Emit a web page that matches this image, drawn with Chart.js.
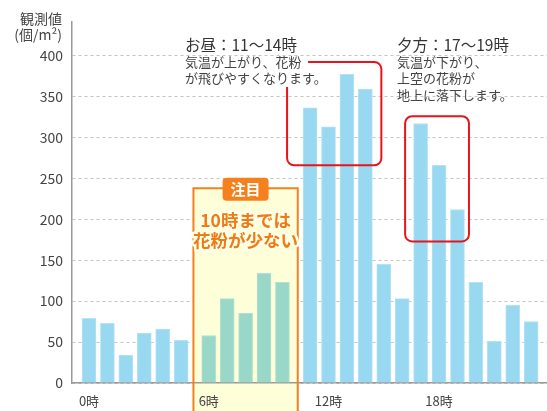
<!DOCTYPE html>
<html><head><meta charset="utf-8">
<script src="https://cdn.jsdelivr.net/npm/chart.js@4"></script>
<style>html,body{margin:0;padding:0;background:#fff}canvas{display:block}</style>
</head><body>
<canvas id="c" width="547" height="411"></canvas>
<script>
const hours = [0,1,2,3,4,5,6,7,8,9,10,11,12,13,14,15,16,17,18,19,20,21,22,23];
const pollen = [79,73,34,61,66,52,58,103,85,134,123,336,313,377,359,145,103,317,266,212,123,51,95,75];
const focusHours = [6,7,8,9,10];
const xTickHours = [0,6,12,18];
const xTickLabels = ['0時','6時','12時','18時'];
const yTicks = [0,50,100,150,200,250,300,350,400];
const yTitle = ['観測値','(個/m²)'];
const noonHours = [11,14];
const noonTitle = 'お昼：11～14時';
const noonLines = ['気温が上がり、花粉','が飛びやすくなります。'];
const eveHours = [17,19];
const eveTitle = '夕方：17～19時';
const eveLines = ['気温が下がり、','上空の花粉が','地上に落下します。'];
const focusTag = '注目';
const focusLines = ['10時までは','花粉が少ない'];

const FONT = "'Noto Sans CJK JP','Noto Sans',sans-serif";
const BLUE = '#98D8F1', BLUE_B = '#B4E3F5';
const TEAL = '#99D8C8', TEAL_B = '#B2E2D3';
const ORANGE = '#F5801E', RED = '#E8141C', YELLOW = '#FEFED8';

// extra half-slot gap on both sides of the highlighted block
const gapAfter = [focusHours[0]-1, focusHours[focusHours.length-1]];
const pos = h => h + 0.5 * gapAfter.filter(g => h > g).length;
const isFocus = h => focusHours.includes(h);

function roundPath(ctx, l, t, r, b, rad) {
  ctx.beginPath();
  ctx.moveTo(l+rad, t); ctx.lineTo(r-rad, t); ctx.arcTo(r, t, r, t+rad, rad);
  ctx.lineTo(r, b-rad); ctx.arcTo(r, b, r-rad, b, rad);
  ctx.lineTo(l+rad, b); ctx.arcTo(l, b, l, b-rad, rad);
  ctx.lineTo(l, t+rad); ctx.arcTo(l, t, l+rad, t, rad);
  ctx.closePath();
}

function focusBox(chart) {
  const x = chart.scales.x, y = chart.scales.y;
  const f0 = focusHours[0], f1 = focusHours[focusHours.length-1];
  const l = (x.getPixelForValue(pos(f0-1)) + x.getPixelForValue(pos(f0)))/2 - 1.5;
  const r = (x.getPixelForValue(pos(f1)) + x.getPixelForValue(pos(f1+1)))/2 + 1.5;
  const t = y.getPixelForValue(238);
  return {l, r, t, b: chart.height + 5};
}

const deco = {
  id: 'deco',
  beforeDatasetsDraw(chart) {
    const ctx = chart.ctx, bx = focusBox(chart);
    ctx.save();
    ctx.fillStyle = YELLOW;
    ctx.fillRect(bx.l, bx.t, bx.r - bx.l, bx.b - bx.t);
    ctx.beginPath(); ctx.rect(bx.l, bx.t, bx.r - bx.l, bx.b - bx.t); ctx.clip();
    chart.scales.x.draw(chart.chartArea);
    ctx.restore();
  },
  afterDatasetsDraw(chart) {
    const ctx = chart.ctx, x = chart.scales.x, y = chart.scales.y, bx = focusBox(chart);
    ctx.save();
    ctx.strokeStyle = ORANGE; ctx.lineWidth = 2;
    ctx.beginPath();
    ctx.moveTo(bx.l, bx.b); ctx.lineTo(bx.l, bx.t); ctx.lineTo(bx.r, bx.t); ctx.lineTo(bx.r, bx.b);
    ctx.stroke();
    const cx = (bx.l + bx.r)/2;
    ctx.fillStyle = ORANGE;
    roundPath(ctx, cx-23, bx.t-10.5, cx+23, bx.t+12.5, 4); ctx.fill();
    ctx.fillStyle = '#fff'; ctx.font = 'bold 15px ' + FONT;
    ctx.textAlign = 'center'; ctx.textBaseline = 'middle';
    ctx.fillText(focusTag, cx, bx.t + 1);
    ctx.font = 'bold 17.5px ' + FONT;
    ctx.lineJoin = 'round';
    focusLines.forEach((s, i) => {
      const ty = bx.t + 32 + i*20.5;
      ctx.strokeStyle = '#FFFFE6'; ctx.lineWidth = 5; ctx.strokeText(s, cx, ty);
      ctx.fillStyle = '#F07A18'; ctx.fillText(s, cx, ty);
    });
    ctx.strokeStyle = RED; ctx.lineWidth = 2;
    {
      const l = x.getPixelForValue(pos(noonHours[0])) - 23, r = x.getPixelForValue(pos(noonHours[1])) + 16;
      const t = y.getPixelForValue(392), b = y.getPixelForValue(266), rad = 7;
      ctx.beginPath();
      ctx.moveTo(l+21, t); ctx.lineTo(r-rad, t); ctx.arcTo(r, t, r, t+rad, rad);
      ctx.lineTo(r, b-rad); ctx.arcTo(r, b, r-rad, b, rad);
      ctx.lineTo(l+rad, b); ctx.arcTo(l, b, l, b-rad, rad);
      ctx.lineTo(l, t+25);
      ctx.stroke();
    }
    {
      const l = x.getPixelForValue(pos(eveHours[0])) - 15.5, r = x.getPixelForValue(pos(eveHours[1])) + 11.5;
      const t = y.getPixelForValue(326), b = y.getPixelForValue(173);
      roundPath(ctx, l, t, r, b, 7); ctx.stroke();
    }
    ctx.restore();
  },
  afterDraw(chart) {
    const ctx = chart.ctx;
    ctx.save();
    ctx.textBaseline = 'middle'; ctx.textAlign = 'left';
    const block = (x0, title, lines) => {
      ctx.fillStyle = '#333'; ctx.font = '15.5px ' + FONT;
      ctx.fillText(title, x0, 45.5);
      ctx.fillStyle = '#444'; ctx.font = '13px ' + FONT;
      lines.forEach((s, i) => ctx.fillText(s, x0, 62 + i*16.5));
    };
    block(185, noonTitle, noonLines);
    block(397, eveTitle, eveLines);
    ctx.textAlign = 'right'; ctx.fillStyle = '#444'; ctx.font = '14px ' + FONT;
    ctx.fillText(yTitle[0], 62, 19);
    ctx.fillText(yTitle[1], 62, 35);
    ctx.restore();
  }
};

new Chart(document.getElementById('c'), {
  type: 'bar',
  data: {
    datasets: [{
      data: hours.map((h, i) => ({x: pos(h), y: pollen[i]})),
      backgroundColor: hours.map(h => isFocus(h) ? TEAL : BLUE),
      borderColor: hours.map(h => isFocus(h) ? TEAL_B : BLUE_B),
      borderWidth: 1,
      barThickness: 14
    }]
  },
  options: {
    responsive: false,
    devicePixelRatio: 1,
    animation: false,
    layout: {padding: {top: 22, left: 0, right: 0, bottom: 0}},
    plugins: {legend: {display: false}, tooltip: {enabled: false}},
    scales: {
      x: {
        type: 'linear',
        min: -0.923, max: 24.86,
        offset: false,
        afterBuildTicks: s => { s.ticks = xTickHours.map(h => ({value: pos(h)})); },
        afterFit: s => { s.height = 28; },
        grid: {display: false, drawTicks: false},
        border: {display: true, color: '#999', width: 1.5},
        ticks: {
          autoSkip: false, maxRotation: 0,
          callback: (v, i) => xTickLabels[i],
          color: '#444', font: {family: FONT, size: 13}, padding: 10
        }
      },
      y: {
        min: 0, max: 441,
        afterBuildTicks: s => { s.ticks = yTicks.map(v => ({value: v})); },
        afterFit: s => { s.width = 72; },
        grid: {color: '#c4c4c4', lineWidth: 1, drawTicks: false},
        border: {display: true, color: '#999', width: 1.5, dash: [3, 3]},
        ticks: {color: '#444', font: {family: FONT, size: 14}, padding: 9}
      }
    }
  },
  plugins: [deco]
});
</script>
</body></html>
